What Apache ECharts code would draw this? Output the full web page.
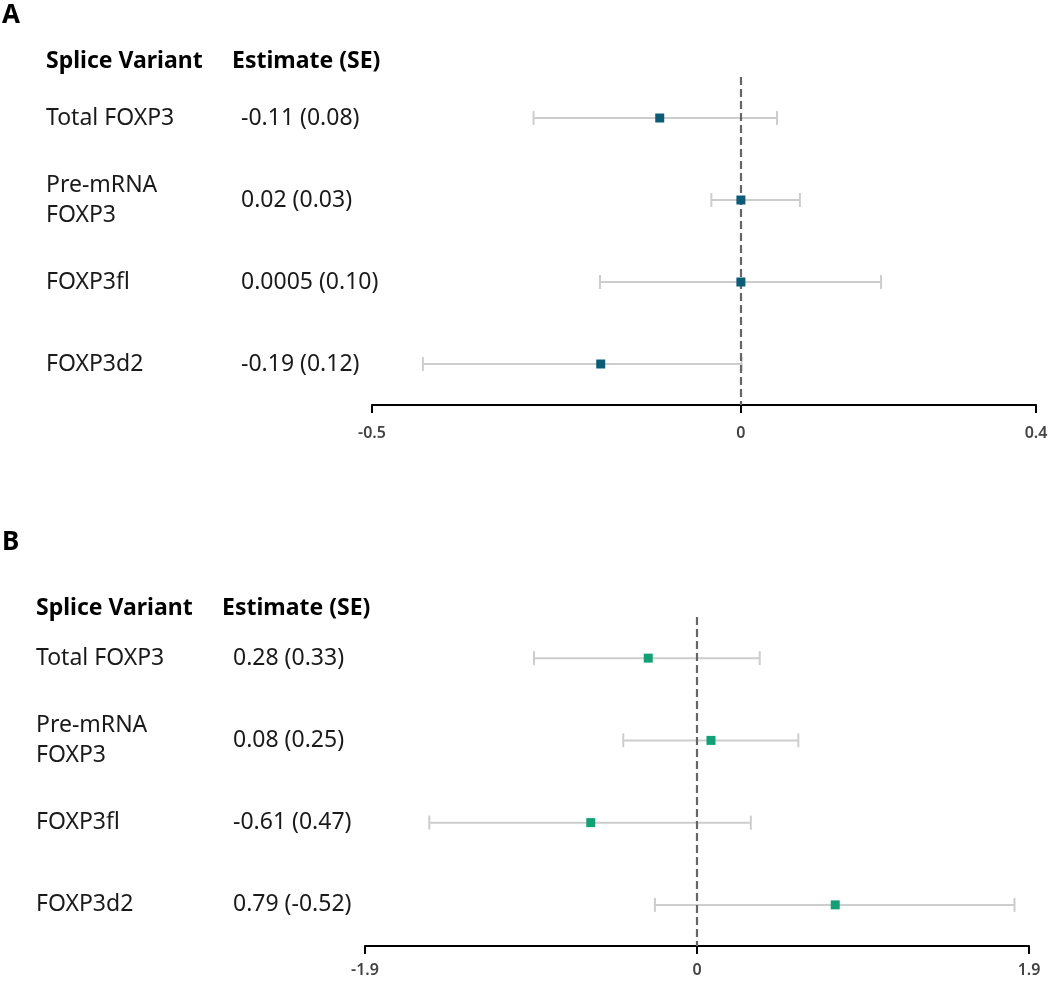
<!DOCTYPE html>
<html>
<head>
<meta charset="utf-8">
<script src="https://cdn.jsdelivr.net/npm/echarts@6/dist/echarts.min.js"></script>
<style>
  html, body { margin: 0; padding: 0; background: #fff; }
  #chart { width: 1056px; height: 989px; }
</style>
</head>
<body>
<div id="chart"></div>
<script>
const variants = ["Total FOXP3", "Pre-mRNA\nFOXP3", "FOXP3fl", "FOXP3d2"];

// panel A
const estimatesA = ["-0.11 (0.08)", "0.02 (0.03)", "0.0005 (0.10)", "-0.19 (0.12)"];
const pointA = [-0.11, 0.0, 0.0, -0.19];
const lowA = [-0.281, -0.04, -0.191, -0.431];
const highA = [0.049, 0.08, 0.19, 0.001];
const ticksA = [-0.5, 0, 0.4];

// panel B
const estimatesB = ["0.28 (0.33)", "0.08 (0.25)", "-0.61 (0.47)", "0.79 (-0.52)"];
const pointB = [-0.279, 0.08, -0.608, 0.791];
const lowB = [-0.933, -0.422, -1.532, -0.241];
const highB = [0.359, 0.58, 0.308, 1.817];
const ticksB = [-1.9, 0, 1.9];

const FONT = "'Noto Sans', 'Open Sans', sans-serif";
const TEXT = "#1a1a1a";

const chart = echarts.init(document.getElementById("chart"));

const errorBars = (lows, highs, gridNo) => ({
  type: "custom",
  xAxisIndex: gridNo,
  yAxisIndex: gridNo * 2,
  silent: true,
  z: 2,
  data: lows.map((lo, i) => [lo, highs[i], i]),
  encode: { x: [0, 1], y: 2 },
  renderItem: (params, api) => {
    const a = api.coord([api.value(0), api.value(2)]);
    const b = api.coord([api.value(1), api.value(2)]);
    const cap = 7;
    const st = { stroke: "#cdcdcd", lineWidth: 2 };
    return {
      type: "group",
      children: [
        { type: "line", shape: { x1: a[0], y1: a[1], x2: b[0], y2: b[1] }, style: st },
        { type: "line", shape: { x1: a[0], y1: a[1] - cap, x2: a[0], y2: a[1] + cap }, style: st },
        { type: "line", shape: { x1: b[0], y1: b[1] - cap, x2: b[0], y2: b[1] + cap }, style: st },
      ],
    };
  },
});

const points = (vals, gridNo, color) => ({
  type: "scatter",
  xAxisIndex: gridNo,
  yAxisIndex: gridNo * 2,
  symbol: "rect",
  symbolSize: 9,
  z: 4,
  itemStyle: { color: color, opacity: 1 },
  data: vals.map((v, i) => [v, i]),
  markLine: {
    silent: true,
    symbol: "none",
    label: { show: false },
    lineStyle: { color: "#666", width: 2.2, type: [8, 4] },
    data: [{ xAxis: 0 }],
    z: 3,
  },
});

const xAxisFor = (gridNo, min, max, ticks, labelGap) => ({
  type: "value",
  gridIndex: gridNo,
  min: min,
  max: max,
  splitLine: { show: false },
  axisLine: { show: true, onZero: false, lineStyle: { color: "#000", width: 2 } },
  axisTick: {
    show: true,
    customValues: ticks,
    length: 8,
    lineStyle: { color: "#000", width: 2 },
  },
  axisLabel: {
    customValues: ticks,
    fontSize: 16,
    fontWeight: 600,
    color: "#444",
    margin: labelGap,
    fontFamily: FONT,
  },
});

const yAxisFor = (gridNo, data, margin) => ({
  type: "category",
  gridIndex: gridNo,
  position: "left",
  inverse: true,
  data: data,
  axisLine: { show: false },
  axisTick: { show: false },
  axisLabel: {
    align: "left",
    margin: margin,
    fontSize: 23,
    lineHeight: 30,
    color: TEXT,
    fontFamily: FONT,
    padding: [0, 0, 8, 0],
  },
});

const header = (txt, x, y, size) => ({
  type: "text",
  x: x,
  y: y,
  style: {
    text: txt,
    fill: "#000",
    font: "bold " + size + "px " + FONT,
    verticalAlign: "middle",
  },
});

chart.setOption({
  animation: false,
  grid: [
    { left: 372, right: 20, top: 77, height: 328, containLabel: false, outerBoundsMode: "none" },
    { left: 365, right: 27, top: 617, height: 329, containLabel: false, outerBoundsMode: "none" },
  ],
  xAxis: [
    xAxisFor(0, -0.5, 0.4, ticksA, 20),
    xAxisFor(1, -1.9, 1.9, ticksB, 16),
  ],
  yAxis: [
    yAxisFor(0, variants, 326),
    yAxisFor(0, estimatesA, 131),
    yAxisFor(1, variants, 329),
    yAxisFor(1, estimatesB, 132),
  ],
  graphic: [
    header("A", 2, 16, 26),
    header("Splice Variant", 46, 61, 23),
    header("Estimate (SE)", 232, 61, 23),
    header("B", 2, 543, 26),
    header("Splice Variant", 36, 608, 23),
    header("Estimate (SE)", 222, 608, 23),
  ],
  series: [
    errorBars(lowA, highA, 0),
    points(pointA, 0, "#0d5c76"),
    errorBars(lowB, highB, 1),
    points(pointB, 1, "#12a074"),
  ],
});
</script>
</body>
</html>
